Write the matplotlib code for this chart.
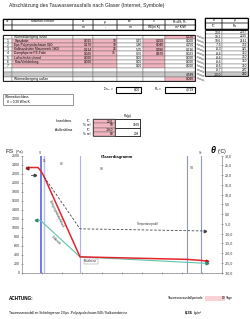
import matplotlib
matplotlib.use('Agg')
import matplotlib.pyplot as plt
from matplotlib.patches import Rectangle
import numpy as np

plt.rcParams['font.family'] = ['Liberation Sans', 'DejaVu Sans']

# ---------------- data ----------------
title = "Abschätzung des Tauwasserausfalls nach Glaser (Internet, Symbole)"
header_top = ["Nr", "Material Schicht", "d", "μ", "sd", "λ", "R=d/λ; Rₛ"]
header_units = ["", "", "m", "-", "m", "W/(m K)", "m² K/W"]
row_nr = ["", "1", "2", "3", "4", "5", "6", "7", "", "", ""]
materials = ["Wärmeübergang innen", "Gipsplatte", "Eps-Polystyrolschaum 040",
             "Kalksandstein Mauerwerk 1800", "Dampfsperre PE-Folie", "Luftschicht ruhend",
             "Putz/Verkleidung", "", "", "", "Wärmeübergang außen"]
col_d = ["", "0,015", "0,170", "0,214", "0,020", "0,000", "0,000", "", "", "", ""]
col_mu = ["", "10", "10", "25", "35", "", "", "", "", "", ""]
col_sd = ["", "0,15", "1,80", "5,35", "0,70", "0,00", "0,00", "0,00", "", "", ""]
col_lam = ["", "0,250", "0,040", "0,990", "0,870", "", "", "", "", "", ""]
col_R = ["0,130", "0,060", "4,250", "0,216", "0,023", "0,000", "0,000", "0,000", "", "4,589", "0,040"]
theta_vals = ["20,0", "19,2", "18,6", "-7,5", "-8,3", "-8,6", "-8,6", "-8,6", "-8,6", "-9,7", "-10,0"]
ps_vals = ["2337", "2225", "2141", "352", "325", "310", "310", "310", "310", "270", "260"]
sum_sd = "8,00"
R_T = "4,719"
u_text = ["Wärmedurchlass", "  U = 0,20 W/m²K"]
clim_labels = ["Innenklima", "Außenklima"]
clim_units = ["°C", "% rel", "°C", "% rel"]
clim_vals = ["20,0", "50", "-10,0", "80"]
clim_p = ["", "1169", "", "208"]
period_days = "60"
condensate = "0,36"

# chart data (x = cumulative sd in m)
layer_bounds = [0.0, 0.15, 1.95, 7.30, 8.00]
layer_labels = ["Si", "S1", "S2", "S3", "S4", "Se"]
ps_x = [-0.70, -0.15, 0.0, 0.15, 1.95, 7.30, 8.00, 8.30]
ps_y = [2337, 2337, 2257, 2141, 352, 296, 273, 256]
p_x = [-0.25, -0.10, 0.0, 1.95, 8.30]
p_y = [1169, 1169, 1150, 352, 208]
t_x = [0.15, 1.95, 8.20]
t_y = [19.2, -7.5, -8.6]
t_in_x = [-0.50, -0.30]
t_in_y = [20.0, 20.0]

# ---------------- figure ----------------
fig = plt.figure(figsize=(2.5, 3.19), dpi=100)
ov = fig.add_axes([0, 0, 1, 1])
ov.set_xlim(0, 250)
ov.set_ylim(319, 0)
ov.axis('off')

PINK = "#f2b4be"
GRID = "#666666"
fs = 2.3

ov.text(9, 6, title, fontsize=3.6, va='center', ha='left', color='#222222')

# main table geometry
cols = [3, 12, 73, 93, 117, 143, 165, 195]
hy = [18.5, 24.5, 30]
# header
for r in range(2):
    for c in range(7):
        ov.add_patch(Rectangle((cols[c], hy[r]), cols[c+1]-cols[c], hy[r+1]-hy[r],
                               fill=False, lw=0.35, ec='#222222'))
ov.add_patch(Rectangle((cols[0], hy[0]), cols[-1]-cols[0], hy[2]-hy[0], fill=False, lw=0.8, ec='black'))
for c in range(7):
    xc = (cols[c]+cols[c+1])/2
    ov.text(xc, (hy[0]+hy[1])/2, header_top[c], fontsize=fs, ha='center', va='center')
    ov.text(xc, (hy[1]+hy[2])/2, header_units[c], fontsize=fs, ha='center', va='center')

# data rows
r0 = 34.5
rh = 4.2
nrows = len(materials)
for i in range(nrows):
    y = r0 + i*rh
    for c in range(7):
        fc = 'white'
        if 1 <= i <= 7 and c in (1, 2, 3, 5):
            fc = PINK
        if c == 6 and i in (0, 10):
            fc = PINK
        if i == 9:
            fc = '#c8c8c8' if fc == 'white' else fc
        ov.add_patch(Rectangle((cols[c], y), cols[c+1]-cols[c], rh, fc=fc, lw=0.3, ec=GRID))
    yc = y + rh/2
    ov.text(cols[0]+4.5, yc, row_nr[i], fontsize=fs, ha='center', va='center')
    ov.text(cols[1]+2.5, yc, materials[i], fontsize=fs, ha='left', va='center')
    for c, vals in zip([2, 3, 4, 5, 6], [col_d, col_mu, col_sd, col_lam, col_R]):
        ov.text(cols[c+1]-1, yc, vals[i], fontsize=fs, ha='right', va='center')
ov.add_patch(Rectangle((cols[0], r0), cols[-1]-cols[0], nrows*rh, fill=False, lw=0.6, ec='black'))

# right table
rx = [205, 222, 248]
rhy = [17.5, 23, 28.5]
rt_top = ["θ", "pₛ"]
rt_units = ["°C", "Pa"]
for r in range(2):
    for c in range(2):
        ov.add_patch(Rectangle((rx[c], rhy[r]), rx[c+1]-rx[c], rhy[r+1]-rhy[r], fill=False, lw=0.35, ec='#222222'))
        ov.text((rx[c]+rx[c+1])/2, (rhy[r]+rhy[r+1])/2, [rt_top, rt_units][r][c],
                fontsize=fs, ha='center', va='center')
ov.add_patch(Rectangle((rx[0], rhy[0]), rx[2]-rx[0], rhy[2]-rhy[0], fill=False, lw=0.8, ec='black'))
rr0 = 30.0
for i in range(len(theta_vals)):
    y = rr0 + i*rh
    fc = '#c8c8c8' if i == 10 else 'white'
    for c in range(2):
        ov.add_patch(Rectangle((rx[c], y), rx[c+1]-rx[c], rh, fc=fc, lw=0.3, ec=GRID))
    ov.text(rx[1]-1, y+rh/2, theta_vals[i], fontsize=fs, ha='right', va='center')
    ov.text(rx[2]-1, y+rh/2, ps_vals[i], fontsize=fs, ha='right', va='center')
    # connector diagonals
    ov.plot([197, 204], [r0 + i*rh + 0.8, r0 + i*rh + 3.6], color='#555555', lw=0.3)
    ov.plot([197, 204], [r0 + i*rh + 1.8, r0 + i*rh + 4.6], color='#555555', lw=0.3)
ov.add_patch(Rectangle((rx[0], rr0), rx[2]-rx[0], len(theta_vals)*rh, fill=False, lw=0.6, ec='black'))

# sums
ov.text(114, 89.5, "Σ s$_d$ =", fontsize=fs, ha='right', va='center')
ov.add_patch(Rectangle((116, 86.5), 25, 6, fill=False, lw=0.8, ec='black'))
ov.text(140, 89.5, sum_sd, fontsize=fs, ha='right', va='center')
ov.text(163, 89.5, "R$_T$ =", fontsize=fs, ha='right', va='center')
ov.add_patch(Rectangle((165, 86.5), 30, 6, fill=False, lw=0.8, ec='black'))
ov.text(194, 89.5, R_T, fontsize=fs, ha='right', va='center')

# U box
ov.add_patch(Rectangle((3, 94), 70, 10.5, fill=False, lw=0.4, ec='#444444'))
ov.text(5, 97, u_text[0], fontsize=fs, ha='left', va='center')
ov.text(5, 101.3, u_text[1], fontsize=fs, ha='left', va='center')

# climate table
cy = [119.3, 123.4, 127.5, 131.6, 135.7]
ov.text(128, 116.5, "Pa(p)", fontsize=fs, ha='center', va='center')
ov.text(72, (cy[0]+cy[2])/2 - 2, clim_labels[0], fontsize=fs, ha='right', va='center')
ov.text(72, (cy[2]+cy[4])/2 - 2, clim_labels[1], fontsize=fs, ha='right', va='center')
for i in range(4):
    ov.text(90, (cy[i]+cy[i+1])/2, clim_units[i], fontsize=fs, ha='right', va='center')
    ov.add_patch(Rectangle((93, cy[i]), 22, cy[i+1]-cy[i], fc=PINK, lw=0.3, ec=GRID))
    ov.text(113, (cy[i]+cy[i+1])/2, clim_vals[i], fontsize=fs, ha='right', va='center')
    ov.text(139.5, (cy[i]+cy[i+1])/2, clim_p[i], fontsize=fs, ha='right', va='center')
ov.add_patch(Rectangle((115, cy[0]), 25, cy[2]-cy[0], fill=False, lw=0.5, ec='#222222'))
ov.add_patch(Rectangle((115, cy[2]), 25, cy[4]-cy[2], fill=False, lw=0.5, ec='#222222'))
ov.add_patch(Rectangle((93, cy[0]), 47, cy[4]-cy[0], fill=False, lw=0.5, ec='#222222'))

# bottom notes
ov.text(9, 298.3, "ACHTUNG:", fontsize=3.3, fontweight='bold', ha='left', va='center')
ov.text(203, 298.3, "Tauwasserausfallperiode", fontsize=fs, ha='right', va='center')
ov.add_patch(Rectangle((205, 295.8), 20, 5, fc="#f8d0d6", lw=0))
ov.text(225, 298.3, period_days, fontsize=fs, ha='right', va='center')
ov.text(226, 298.3, "Tage", fontsize=fs, ha='left', va='center')
ov.text(9, 312.7, "Tauwasserausfall an Schichtgrenze 2 Eps -Polystyrolschaum 040 / Kalksandsteine",
        fontsize=fs, ha='left', va='center')
ov.text(193, 312.7, condensate, fontsize=3.0, fontweight='bold', ha='right', va='center')
ov.text(194, 312.7, "kg/m²", fontsize=fs, ha='left', va='center')

# chart titles
ov.text(6, 151.5, "FS", fontsize=4.6, ha='left', va='center', color='#222222')
ov.text(15.5, 152, "(Pa)", fontsize=3.0, ha='left', va='center', color='#222222')
ov.text(211, 150.5, "θ", fontsize=6.5, fontweight='bold', fontstyle='italic', ha='left', va='center')
ov.text(218, 151.5, "(°C)", fontsize=3.6, ha='left', va='center')
ov.text(117, 157, "Glaserdiagramm", fontsize=3.0, fontweight='bold', ha='center', va='center')

# ---------------- chart ----------------
top_px, bot_px = 155.7, 272.7
ax = fig.add_axes([22/250, (319-bot_px)/319, 200/250, (bot_px-top_px)/319])
ax.set_facecolor('none')
ax.set_xlim(-0.95, 9.05)
ax.set_ylim(0, 2600)
for s in ['top', 'right']:
    ax.spines[s].set_visible(False)
for s in ['left', 'bottom']:
    ax.spines[s].set_color('#888888')
    ax.spines[s].set_linewidth(0.5)
ax.set_yticks(np.arange(0, 2601, 200))
ax.set_yticklabels([str(v) for v in range(0, 2601, 200)])
ax.set_xticks(np.arange(-0.95, 9.06, 1.0))
ax.set_xticks(np.arange(-0.95, 9.06, 0.25), minor=True)
ax.set_xticklabels([])
ax.tick_params(axis='y', labelsize=2.6, direction='inout', length=2, width=0.4, color='#666666', pad=0.8,
               labelcolor='#333333')
ax.tick_params(axis='x', which='major', direction='inout', length=2, width=0.4, color='#666666')
ax.tick_params(axis='x', which='minor', direction='out', length=1, width=0.3, color='#888888')

vcolors = ["#4b55d8", "#b8bcf2", "#b0b4ee", "#8e92e6", "#8e92e6"]
vlw = [1.1, 1.0, 0.8, 0.8, 0.8]
for xb, c, lw in zip(layer_bounds, vcolors, vlw):
    ax.axvline(xb, color=c, lw=lw, zorder=1)

ax.plot(ps_x, ps_y, color='#e3242b', lw=1.1, zorder=4)
ax.plot(ps_x[0], ps_y[0], marker='<', color='#8b1a1a', ms=2, zorder=5)
ax.plot(ps_x[-1], ps_y[-1], marker='>', color='#c01818', ms=2, zorder=5)
ax.plot(p_x, p_y, color='#5ec4ab', lw=0.8, zorder=3)
ax.plot(p_x[0], p_y[0], marker='<', color='#2f8a75', ms=2, zorder=5)
ax.plot(p_x[-1], p_y[-1], marker='>', color='#2f8a75', ms=2, zorder=5)

ax2 = ax.twinx()
ax2.set_ylim(-30, 30)
ax2.set_xlim(-0.95, 9.05)
for s in ['top', 'left', 'bottom']:
    ax2.spines[s].set_visible(False)
ax2.spines['right'].set_color('#888888')
ax2.spines['right'].set_linewidth(0.5)
ax2.spines['right'].set_linestyle((0, (1, 1)))
ax2.set_yticks(np.arange(-30, 31, 5))
ax2.set_yticklabels([f"{v:.1f}".replace('.', ',') for v in np.arange(-30, 31, 5)])
ax2.tick_params(axis='y', labelsize=2.6, direction='inout', length=2, width=0.4, color='#666666', pad=0.8,
                labelcolor='#333333')
ax2.plot(t_x, t_y, color='#444444', lw=0.6, ls=(0, (3, 2)), zorder=3)
ax2.plot(t_x[-1], t_y[-1], marker='>', color='#444444', ms=1.8)
ax2.plot(t_in_x, t_in_y, color='#444444', lw=0.6)
ax2.plot(t_in_x[-1], t_in_y[-1], marker='>', color='#444444', ms=1.8)

# labels in chart (pixel overlay, drawn on top)
ov2 = fig.add_axes([0, 0, 1, 1])
ov2.set_xlim(0, 250)
ov2.set_ylim(319, 0)
ov2.axis('off')
ov2.patch.set_alpha(0)
lab_pos = [(40, 152.5), (44.5, 161), (62, 164), (102, 169), (192, 168), (201, 153)]
for (x, y), s in zip(lab_pos, layer_labels):
    ov2.text(x, y, s, fontsize=2.2, ha='center', va='center', color='#333333')
ov2.text(56.5, 214, "Sättigungsdampfdruck", fontsize=2.2, rotation=-64, ha='center', va='center',
         rotation_mode='anchor', color='#333333')
ov2.text(56, 240, "Teildruck", fontsize=2.2, rotation=-43, ha='center', va='center',
         rotation_mode='anchor', color='#333333')
ov2.text(91, 261.5, "Tauebene", fontsize=2.2, ha='center', va='center', color='#333333',
         bbox=dict(fc='white', ec='#888888', lw=0.3, pad=0.3))
ov2.text(148, 224.5, "Temperaturprofil", fontsize=2.2, ha='center', va='center', color='#333333')

fig.savefig('out.png', dpi=100)
